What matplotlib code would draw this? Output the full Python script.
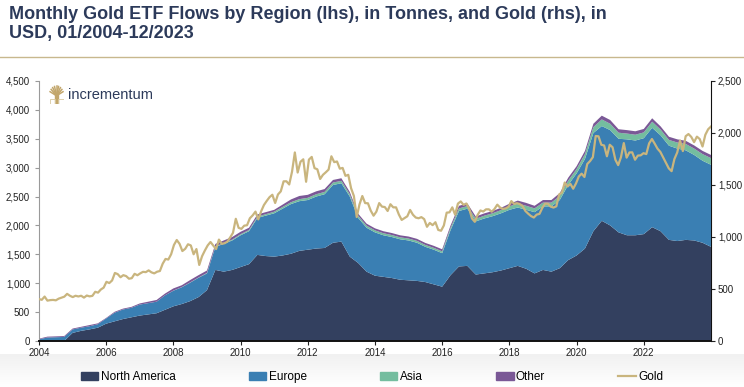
import numpy as np
import matplotlib
matplotlib.use("Agg")
import matplotlib.pyplot as plt
from matplotlib.ticker import FuncFormatter
from matplotlib.patches import Rectangle
from matplotlib.lines import Line2D

# -----------------------------------------------------------------------------
# DATA
# -----------------------------------------------------------------------------
# ETF holdings in tonnes, quarter boundaries from 01/2004 to 01/2024 (81 points)
north_america = [
    0, 0, 0, 0, 140, 175, 200, 230,
    300, 340, 380, 410, 440, 460, 480, 540,
    600, 640, 690, 760, 880, 1230, 1200, 1230,
    1280, 1330, 1490, 1470, 1460, 1480, 1510, 1560,
    1580, 1600, 1610, 1700, 1720, 1460, 1350, 1200,
    1130, 1110, 1090, 1060, 1050, 1040, 1020, 980,
    940, 1140, 1290, 1300, 1150, 1170, 1190, 1220,
    1260, 1300, 1250, 1170, 1230, 1200, 1260, 1400,
    1480, 1600, 1900, 2080, 2000, 1880, 1830, 1830,
    1850, 1970, 1900, 1750, 1730, 1750, 1740, 1700,
    1630,
]
europe = [
    30, 60, 65, 70, 60, 55, 55, 60,
    90, 150, 165, 165, 190, 195, 200, 250,
    270, 290, 320, 335, 290, 400, 480, 510,
    550, 570, 640, 700, 750, 810, 860, 860,
    860, 900, 930, 1000, 1010, 1040, 780, 760,
    750, 720, 710, 700, 690, 660, 610, 600,
    580, 780, 960, 990, 920, 950, 970, 990,
    1010, 1010, 1020, 1060, 1100, 1130, 1180, 1300,
    1420, 1550, 1700, 1640, 1650, 1620, 1660, 1640,
    1660, 1720, 1660, 1630, 1600, 1550, 1480, 1420,
    1420,
]
asia = [
    0, 0, 0, 0, 0, 0, 0, 0,
    0, 0, 0, 0, 0, 0, 0, 0,
    2, 3, 4, 5, 8, 10, 12, 15,
    18, 20, 22, 25, 28, 30, 32, 35,
    38, 40, 40, 42, 42, 40, 38, 36,
    35, 35, 34, 34, 33, 33, 32, 32,
    32, 40, 45, 45, 45, 48, 50, 55,
    60, 70, 70, 65, 65, 65, 70, 75,
    75, 85, 100, 115, 110, 105, 100, 100,
    100, 105, 100, 100, 105, 110, 110, 115,
    115,
]
other = [
    10, 15, 15, 15, 15, 15, 20, 15,
    10, 15, 15, 15, 20, 25, 30, 30,
    38, 32, 41, 40, 42, 40, 48, 45,
    42, 40, 38, 35, 32, 40, 48, 55,
    52, 50, 50, 45, 45, 40, 35, 35,
    35, 35, 35, 35, 35, 35, 35, 35,
    35, 40, 45, 45, 40, 40, 40, 40,
    45, 50, 50, 45, 45, 45, 50, 50,
    50, 55, 60, 65, 65, 60, 60, 60,
    60, 60, 55, 55, 55, 55, 55, 55,
    55,
]

# Gold price in USD, monthly 01/2004 - 12/2023
gold = [
    403, 396, 427, 388, 393, 395, 391, 407, 416, 426, 453, 435,
    422, 435, 428, 435, 417, 437, 429, 434, 473, 465, 495, 513,
    569, 557, 582, 654, 643, 613, 633, 624, 599, 604, 646, 632,
    650, 665, 662, 679, 660, 650, 666, 673, 743, 789, 783, 834,
    923, 971, 934, 865, 886, 930, 919, 834, 884, 731, 815, 870,
    919, 952, 917, 884, 975, 934, 940, 955, 996, 1040, 1175, 1088,
    1078, 1109, 1113, 1180, 1208, 1244, 1169, 1246, 1307, 1347, 1383, 1406,
    1327, 1409, 1439, 1535, 1536, 1505, 1628, 1813, 1620, 1723, 1747, 1531,
    1744, 1770, 1662, 1651, 1558, 1598, 1622, 1648, 1776, 1720, 1726, 1657,
    1664, 1588, 1598, 1469, 1394, 1192, 1314, 1394, 1326, 1324, 1253, 1205,
    1244, 1326, 1292, 1288, 1250, 1315, 1285, 1285, 1216, 1164, 1182, 1199,
    1260, 1214, 1187, 1180, 1191, 1172, 1098, 1135, 1114, 1142, 1068, 1060,
    1111, 1234, 1237, 1285, 1215, 1321, 1342, 1309, 1322, 1273, 1178, 1146,
    1212, 1255, 1245, 1266, 1266, 1243, 1269, 1311, 1283, 1270, 1275, 1291,
    1345, 1318, 1325, 1316, 1298, 1250, 1224, 1201, 1187, 1215, 1222, 1279,
    1320, 1320, 1292, 1283, 1295, 1409, 1427, 1524, 1485, 1511, 1464, 1515,
    1582, 1609, 1577, 1702, 1730, 1768, 1971, 1968, 1887, 1880, 1776, 1887,
    1863, 1743, 1691, 1768, 1903, 1763, 1813, 1814, 1743, 1783, 1785, 1806,
    1797, 1900, 1942, 1897, 1849, 1818, 1766, 1712, 1660, 1633, 1750, 1813,
    1928, 1826, 1969, 1990, 1962, 1912, 1965, 1942, 1870, 1983, 2036, 2062,
]

region_labels = ["North America", "Europe", "Asia", "Other"]
x_ticks = list(range(2004, 2024, 2))

TITLE = "Monthly Gold ETF Flows by Region (lhs), in Tonnes, and Gold (rhs), in\nUSD, 01/2004-12/2023"

# -----------------------------------------------------------------------------
# STYLE
# -----------------------------------------------------------------------------
C_NA = "#33405f"
C_EU = "#3a7fb3"
C_ASIA = "#74bd9f"
C_OTHER = "#7a5896"
C_GOLD = "#c9b57e"
C_TITLE = "#2c3a5a"
C_RULE = "#c8b88e"

plt.rcParams["font.family"] = ["Liberation Sans", "DejaVu Sans"]

# -----------------------------------------------------------------------------
# FIGURE
# -----------------------------------------------------------------------------
fig = plt.figure(figsize=(7.44, 3.87), dpi=100)

# light grey band behind the legend
bg = fig.add_axes([0, 0, 1, 0.085], zorder=0)
grad = np.linspace(0, 1, 50).reshape(-1, 1)
bg.imshow(grad, aspect="auto", cmap=matplotlib.colors.LinearSegmentedColormap.from_list(
    "g", ["#f1f1f1", "#ffffff"]), extent=[0, 1, 0, 1])
bg.axis("off")

fig.text(0.012, 0.985, TITLE, ha="left", va="top", fontsize=13, fontweight="bold",
         color=C_TITLE, linespacing=1.2)
fig.add_artist(Line2D([0.0, 1.0], [0.852, 0.852], color=C_RULE, linewidth=1.0))

ax = fig.add_axes([0.0524, 0.1189, 0.9032, 0.6718], zorder=2)
ax.patch.set_alpha(0)

n_q = len(north_america)
xq = np.linspace(2004, 2024, n_q)
ax.stackplot(xq, north_america, europe, asia, other,
             colors=[C_NA, C_EU, C_ASIA, C_OTHER], labels=region_labels, linewidth=0)

ax.set_xlim(2004, 2024)
ax.set_ylim(0, 4500)
ax.set_yticks(np.arange(0, 4501, 500))
ax.set_xticks(x_ticks)
ax.yaxis.set_major_formatter(FuncFormatter(lambda v, p: f"{v:,.0f}"))
ax.tick_params(axis="both", labelsize=7, length=3, color="#999999", labelcolor="#222222")
ax.tick_params(axis="x", color="#222222", pad=2)
for s in ["top", "right"]:
    ax.spines[s].set_visible(False)
ax.spines["left"].set_color("#9a9a9a")
ax.spines["bottom"].set_color("#111111")
ax.spines["bottom"].set_linewidth(1.4)

ax2 = ax.twinx()
xm = np.linspace(2004, 2024, len(gold))
ax2.plot(xm, gold, color=C_GOLD, linewidth=1.6, label="Gold")
ax2.set_ylim(0, 2500)
ax2.set_yticks(np.arange(0, 2501, 500))
ax2.yaxis.set_major_formatter(FuncFormatter(lambda v, p: f"{v:,.0f}"))
ax2.tick_params(axis="y", labelsize=7, length=3, pad=2, color="#222222", labelcolor="#222222")
for s in ["top", "left", "bottom"]:
    ax2.spines[s].set_visible(False)
ax2.spines["right"].set_color("#111111")

# logo
lax = fig.add_axes([0.066, 0.73, 0.02, 0.05])
lax.set_xlim(0, 10)
lax.set_ylim(0, 10)
lax.axis("off")
lax.add_patch(Rectangle((4.0, 0.5), 2.0, 5, color="#c2a66b"))
for ang in np.linspace(25, 155, 9):
    r = np.deg2rad(ang)
    lax.plot([5, 5 + 4.8 * np.cos(r)], [4.5, 4.5 + 5 * np.sin(r)], color="#c2a66b", linewidth=1.1)
lax.add_patch(Rectangle((0.3, 0.5), 3.4, 2.2, fill=False, edgecolor="#d8c9a0", linewidth=0.6))
lax.add_patch(Rectangle((6.3, 0.5), 3.4, 2.2, fill=False, edgecolor="#d8c9a0", linewidth=0.6))
fig.text(0.091, 0.755, "incrementum", fontsize=10.5, color="#2c3a5a", va="center", ha="left")

# legend
handles = [Rectangle((0, 0), 1, 1, color=c) for c in [C_NA, C_EU, C_ASIA, C_OTHER]]
handles.append(Line2D([], [], color=C_GOLD, linewidth=1.6))
leg = fig.legend(handles, region_labels + ["Gold"], loc="center", bbox_to_anchor=(0.5, 0.026),
                 ncol=5, frameon=False, columnspacing=6.2, handlelength=1.5,
                 handleheight=0.6, handletextpad=0.2, prop={"size": 8.5})

fig.savefig("out.png", dpi=100)
